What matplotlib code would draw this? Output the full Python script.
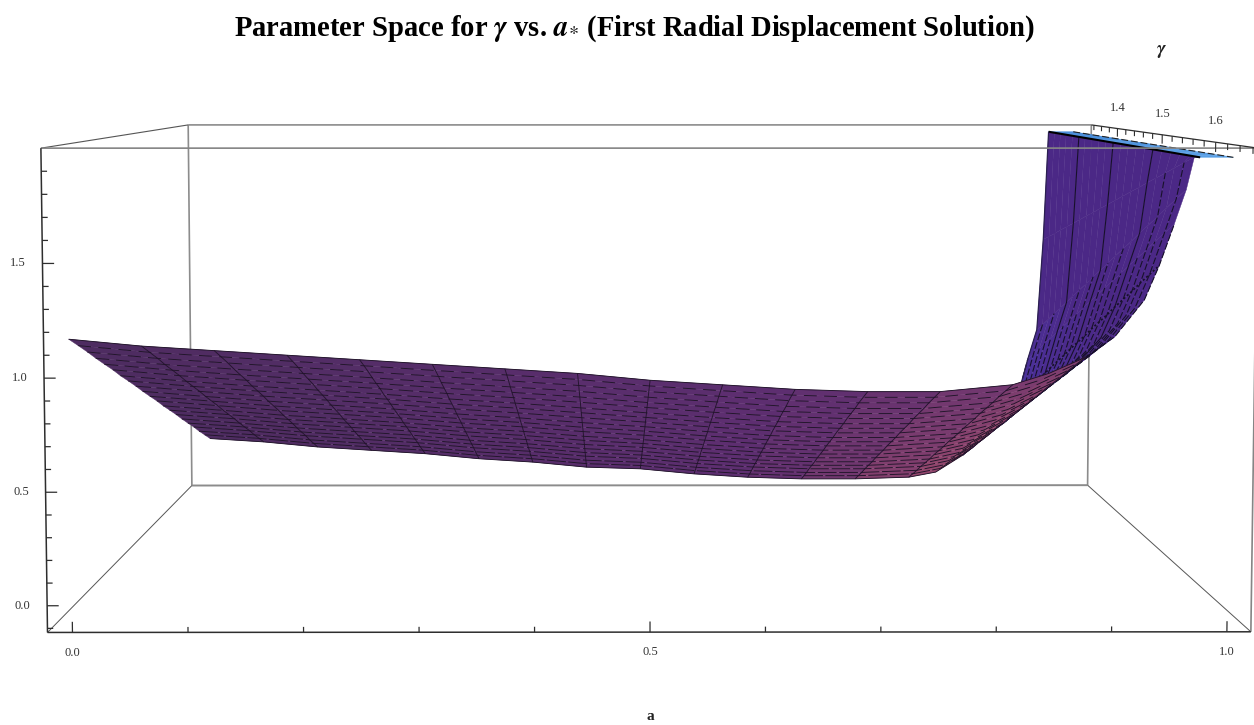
import numpy as np
import matplotlib
matplotlib.use("Agg")
import matplotlib.pyplot as plt
from mpl_toolkits.mplot3d import Axes3D  # noqa

plt.rcParams['font.family'] = ['Liberation Serif', 'DejaVu Serif']
plt.rcParams['mathtext.fontset'] = 'stix'
plt.rcParams['lines.scale_dashes'] = False
plt.rcParams['lines.solid_capstyle'] = 'butt'

# ---------- data ----------
a_values = [0, .0625, .125, .1875, .25, .3125, .375, .4375, .5, .5625, .625, .6875, .75,
            .8125, .84375, .875, .9, .925, .9375, .95, .96, .9665, .9715, 1.0]
gamma_values = [1.333, 1.350, 1.367, 1.383, 1.400, 1.417, 1.433, 1.450, 1.467, 1.483, 1.500,
                1.517, 1.533, 1.550, 1.567, 1.583, 1.600, 1.617, 1.633, 1.650, 1.667]
z_a00 = [.160,.211,.261,.312,.362,.413,.463,.514,.564,.615,.665,.716,.766,.817,.867,.918,.968,1.019,1.069,1.120,1.170]
z_a01 = [.140,.190,.240,.290,.340,.390,.440,.490,.540,.590,.640,.690,.740,.790,.840,.890,.940,.990,1.040,1.090,1.140]
z_a02 = [.110,.161,.211,.262,.312,.363,.413,.464,.514,.565,.615,.666,.716,.767,.817,.868,.918,.969,1.019,1.070,1.120]
z_a03 = [.090,.141,.191,.242,.292,.343,.393,.444,.494,.545,.595,.646,.696,.747,.797,.848,.898,.949,.999,1.050,1.100]
z_a04 = [.070,.121,.171,.222,.272,.323,.373,.424,.474,.525,.575,.626,.676,.727,.777,.828,.878,.929,.979,1.030,1.080]
z_a05 = [.040,.091,.142,.193,.244,.295,.346,.397,.448,.499,.550,.601,.652,.703,.754,.805,.856,.907,.958,1.009,1.060]
z_a06 = [.020,.071,.122,.173,.224,.275,.326,.377,.428,.479,.530,.581,.632,.683,.734,.785,.836,.887,.938,.989,1.040]
z_a07 = [-.010,.042,.093,.145,.196,.248,.299,.351,.402,.454,.505,.557,.608,.660,.711,.763,.814,.866,.917,.969,1.020]
z_a08 = [-.020,.031,.081,.132,.182,.233,.283,.334,.384,.435,.485,.536,.586,.637,.687,.738,.788,.839,.889,.940,.990]
z_a09 = [-.050,.001,.052,.103,.154,.205,.256,.307,.358,.409,.460,.511,.562,.613,.664,.715,.766,.817,.868,.919,.970]
z_a10 = [-.070,-.019,.032,.083,.134,.185,.236,.287,.338,.389,.440,.491,.542,.593,.644,.695,.746,.797,.848,.899,.950]
z_a11 = [-.080,-.029,.022,.073,.124,.175,.226,.277,.328,.379,.430,.481,.532,.583,.634,.685,.736,.787,.838,.889,.940]
z_a12 = [-.080,-.029,.022,.073,.124,.175,.226,.277,.328,.379,.430,.481,.532,.583,.634,.685,.736,.787,.838,.889,.940]
z_a13 = [-.070,-.018,.034,.086,.138,.190,.242,.294,.346,.398,.450,.502,.554,.606,.658,.710,.762,.814,.866,.918,.970]
z_a13b = [-.040,.013,.066,.119,.172,.225,.278,.331,.384,.437,.490,.543,.596,.649,.702,.755,.808,.861,.914,.967,1.020]
z_a14 = [.060,.112,.163,.215,.266,.318,.369,.421,.472,.524,.575,.627,.678,.730,.781,.833,.884,.936,.987,1.039,1.090]
z_a15 = [.170,.221,.271,.322,.372,.423,.473,.524,.574,.625,.675,.726,.776,.827,.877,.928,.978,1.029,1.079,1.130,1.180]
z_a16 = [.260,.314,.368,.422,.476,.530,.584,.638,.692,.746,.800,.854,.908,.962,1.016,1.070,1.124,1.178,1.232,1.286,1.340]
z_a17 = [.390,.445,.500,.555,.610,.665,.720,.775,.830,.885,.940,.995,1.050,1.105,1.160,1.215,1.270,1.325,1.380,1.435,1.490]
z_a18 = [.630,.682,.734,.786,.838,.890,.942,.994,1.046,1.098,1.150,1.202,1.254,1.306,1.358,1.410,1.462,1.514,1.566,1.618,1.670]
z_a19 = [.800,.851,.902,.953,1.004,1.055,1.106,1.157,1.208,1.259,1.310,1.361,1.412,1.463,1.514,1.565,1.616,1.667,1.718,1.769,1.820]
z_a20 = [1.330,1.362,1.393,1.425,1.456,1.488,1.519,1.551,1.582,1.614,1.645,1.677,1.708,1.740,1.771,1.803,1.834,1.866,1.897,1.929,1.960]
z_a21 = [1.96] * 21
z_a22 = [1.96] * 21
z_columns = [z_a00, z_a01, z_a02, z_a03, z_a04, z_a05, z_a06, z_a07, z_a08, z_a09, z_a10, z_a11,
             z_a12, z_a13, z_a13b, z_a14, z_a15, z_a16, z_a17, z_a18, z_a19, z_a20, z_a21, z_a22]

a_major = [0.0, 0.5, 1.0]
a_minor = [.1, .2, .3, .4, .6, .7, .8, .9]
z_major = [0.0, 0.5, 1.0, 1.5]
z_minor = [-.1, .1, .2, .3, .4, .6, .7, .8, .9, 1.1, 1.2, 1.3, 1.4, 1.6, 1.7, 1.8, 1.9]
g_major = [1.4, 1.5, 1.6]
g_minor = [1.34, 1.36, 1.38, 1.42, 1.44, 1.46, 1.48, 1.52, 1.54, 1.56, 1.58, 1.62, 1.64, 1.66]

TITLE = r"Parameter Space for $\mathbfit{\gamma}$ vs. $\mathbfit{a}_{*}$ (First Radial Displacement Solution)"

# ---------- layout: box limits and where the box corners sit on the canvas ----------
W, H = 1254, 725
amin, amax = -0.0216, 1.0208
gmin, gmax = 1.333, 1.667
zmin, zmax = -0.118, 2.0
box_3d = [(amin, gmax, zmin), (amax, gmax, zmin), (amin, gmax, zmax), (amax, gmax, zmax),
          (amin, gmin, zmin), (amax, gmin, zmin), (amin, gmin, zmax), (amax, gmin, zmax)]
box_px = [(47.5, 632.5), (1251.5, 632), (41, 148), (1257, 148),
          (192, 485.5), (1087, 485), (188, 125), (1092, 125)]

fig = plt.figure(figsize=(W / 100, H / 100), dpi=100, facecolor='white')
ax = fig.add_axes([0, (1 - W / H) / 2, 1, W / H], projection='3d', computed_zorder=False)
ax.set_proj_type('ortho')
ax.set_axis_off()
ax.patch.set_visible(False)
ax.apply_aspect()

# camera matrix fitted to the box corners
uv = ax.transData.inverted().transform([(x, H - y) for x, y in box_px])
rows = []
for (X, Y, Z_), (u, v) in zip(box_3d, uv):
    rows.append([X, Y, Z_, 1, 0, 0, 0, 0, -u * X, -u * Y, -u * Z_, -u])
    rows.append([0, 0, 0, 0, X, Y, Z_, 1, -v * X, -v * Y, -v * Z_, -v])
P = np.linalg.svd(np.array(rows))[2][-1].reshape(3, 4)
if P[2] @ np.array([0.5, 1.5, 1.0, 1.0]) < 0:
    P = -P
w_mid = P[2] @ np.array([0.5, 1.5, 1.0, 1.0])
M = np.vstack([P[0], P[1], P[2] - np.array([0, 0, 0, w_mid]), P[2]])
ax.get_proj = lambda: M


def label_at(x, y, z, s, **kw):
    """Put a text at the canvas position of a 3D point."""
    h = P @ np.array([x, y, z, 1.0])
    px = ax.transData.transform((h[0] / h[2], h[1] / h[2]))
    fig.text(px[0] / W, px[1] / H, s, ha='center', va='center', **kw)


# ---------- surface ----------
A, G = np.meshgrid(a_values, gamma_values)
Z = np.array(z_columns).T
n_rows, n_cols = Z.shape
FOLD = a_values.index(.875)    # column where the sheet turns up into the wall
TOP = a_values.index(.9715)    # column of the clipped rim
DOTTED = a_values.index(.9375)
C95, C96, C965 = a_values.index(.95), a_values.index(.96), a_values.index(.9665)


def mix(c0, c1, t):
    return np.array(matplotlib.colors.to_rgb(c0)) * (1 - t) + np.array(matplotlib.colors.to_rgb(c1)) * t


face = np.zeros((n_rows - 1, n_cols - 1, 4))
for r in range(n_rows - 1):
    for c in range(n_cols - 1):
        am = (a_values[c] + a_values[c + 1]) / 2
        zm = (Z[r, c] + Z[r, c + 1]) / 2
        t = r / (n_rows - 2)
        if c >= TOP:
            rgb = mix('#3f86d8', '#5aa0e6', t)
        elif c >= FOLD:
            rgb = mix('#4a38aa', '#4b2886', np.clip(zm / 1.1, 0, 1))
        else:
            base = mix('#4d2c60', '#5d2e70', np.clip(am / 0.6, 0, 1))
            w = np.clip((am - 0.58) / 0.30, 0, 1) ** 1.7 * (0.95 - 0.45 * t)
            rgb = mix(base, '#ad536c', w)
        face[r, c, :3] = rgb
        face[r, c, 3] = 1.0

ax.plot_surface(A[:, FOLD:], G[:, FOLD:], Z[:, FOLD:], facecolors=face[:, FOLD:],
                rstride=1, cstride=1, shade=False, linewidth=0.3, zorder=3)
ax.plot_surface(A[:, :FOLD + 1], G[:, :FOLD + 1], Z[:, :FOLD + 1], facecolors=face[:, :FOLD],
                rstride=1, cstride=1, shade=False, linewidth=0.3, zorder=5)

# mesh on the wall
for i in range(n_rows):
    goes_top = i in (5, 10, 15)
    stop = TOP if goes_top else (C965 if i in (17, 19) else (C96 if i % 2 else C95))
    ls = '-' if goes_top else (0, (5, 1.6))
    ax.plot(A[i, FOLD:stop + 1], G[i, FOLD:stop + 1], Z[i, FOLD:stop + 1],
            color='#17102a', lw=0.8, ls=ls, zorder=4)
ax.plot(A[:, DOTTED], G[:, DOTTED], Z[:, DOTTED], color='#17102a', lw=1.2, ls=(0, (1.6, 1.6)), zorder=4)
ax.plot(A[:, TOP], G[:, TOP], Z[:, TOP], color='black', lw=1.5, zorder=4)
ax.plot(A[:, TOP + 1], G[:, TOP + 1], Z[:, TOP + 1], color='#222222', lw=0.8, ls=(0, (5, 2)), zorder=4)
ax.plot(A[0, FOLD:TOP + 1], G[0, FOLD:TOP + 1], Z[0, FOLD:TOP + 1], color='#2b2050', lw=0.9, zorder=4)

# mesh on the sheet
for i in range(n_rows):
    if i in (0, n_rows - 1):
        ls = '-'
    else:
        f = i / (n_rows - 1)
        ls = (0, (14 - 5 * f, 1.5 + 4 * f))
    ax.plot(A[i, :FOLD + 1], G[i, :FOLD + 1], Z[i, :FOLD + 1], color='#1f1328', lw=0.65, ls=ls, zorder=6)
for c in range(1, FOLD + 1):
    if (a_values[c] * 16) % 1 == 0:
        ax.plot(A[:, c], G[:, c], Z[:, c], color='#22122c', lw=0.65, zorder=6)

# ---------- box ----------
BACK = '#8c8c8c'
DARK = '#2e2e2e'


def edge(p, q, color, lw, z):
    ax.plot([p[0], q[0]], [p[1], q[1]], [p[2], q[2]], color=color, lw=lw, zorder=z)


c = dict(zip(['fbl', 'fbr', 'ftl', 'ftr', 'bbl', 'bbr', 'btl', 'btr'], box_3d))
edge(c['bbl'], c['bbr'], BACK, 1.4, 1)
edge(c['btl'], c['btr'], BACK, 1.2, 1)
edge(c['bbl'], c['btl'], BACK, 1.2, 1)
edge(c['bbr'], c['btr'], BACK, 1.2, 1)
edge(c['fbl'], c['bbl'], '#555555', 0.7, 1)
edge(c['fbr'], c['bbr'], '#555555', 0.7, 1)
edge(c['ftl'], c['btl'], '#555555', 0.8, 1)
edge(c['ftl'], c['ftr'], '#858585', 1.2, 8)
edge(c['fbr'], c['ftr'], '#858585', 1.2, 8)
edge(c['fbl'], c['fbr'], DARK, 1.1, 8)
edge(c['fbl'], c['ftl'], DARK, 1.1, 8)
edge(c['btr'], c['ftr'], DARK, 0.9, 8)

# ---------- ticks ----------
TXT = '#333333'
for v in a_major + a_minor:
    L = 0.047 if v in a_major else 0.024
    edge((v, gmax, zmin), (v, gmax, zmin + L), DARK, 0.9, 8)
for v in z_major + z_minor:
    L = 0.010 if v in z_major else 0.005
    edge((amin, gmax, v), (amin + L, gmax, v), DARK, 0.9, 8)
for v in g_major + g_minor:
    L = 0.045 if v in g_major else 0.028
    edge((amax, v, zmax), (amax, v, zmax - L), DARK, 0.8, 8)

ax.set_xticks([])
ax.set_yticks([])
ax.set_zticks([])

for v in a_major:
    label_at(v, gmax, zmin - 0.09, f"{v:.1f}", fontsize=9, color=TXT)
for v in z_major:
    label_at(amin - 0.021, gmax, v, f"{v:.1f}", fontsize=9, color=TXT)
for v in g_major:
    label_at(amax, v, zmax + 0.115 - (v - 1.4) * 0.09, f"{v:.1f}", fontsize=9, color=TXT)

fig.text(635 / W, 1 - 29 / H, TITLE, ha='center', va='center', fontsize=20.6, fontweight='bold', color='black')
fig.text(650 / W, 1 - 717 / H, "a", ha='center', va='center', fontsize=11, fontweight='bold', color='#222222')
fig.text(1161 / W, 1 - 52 / H, r"$\mathbfit{\gamma}$", ha='center', va='center', fontsize=14, color='#222222')

fig.savefig('out.png', dpi=100, facecolor='white')
